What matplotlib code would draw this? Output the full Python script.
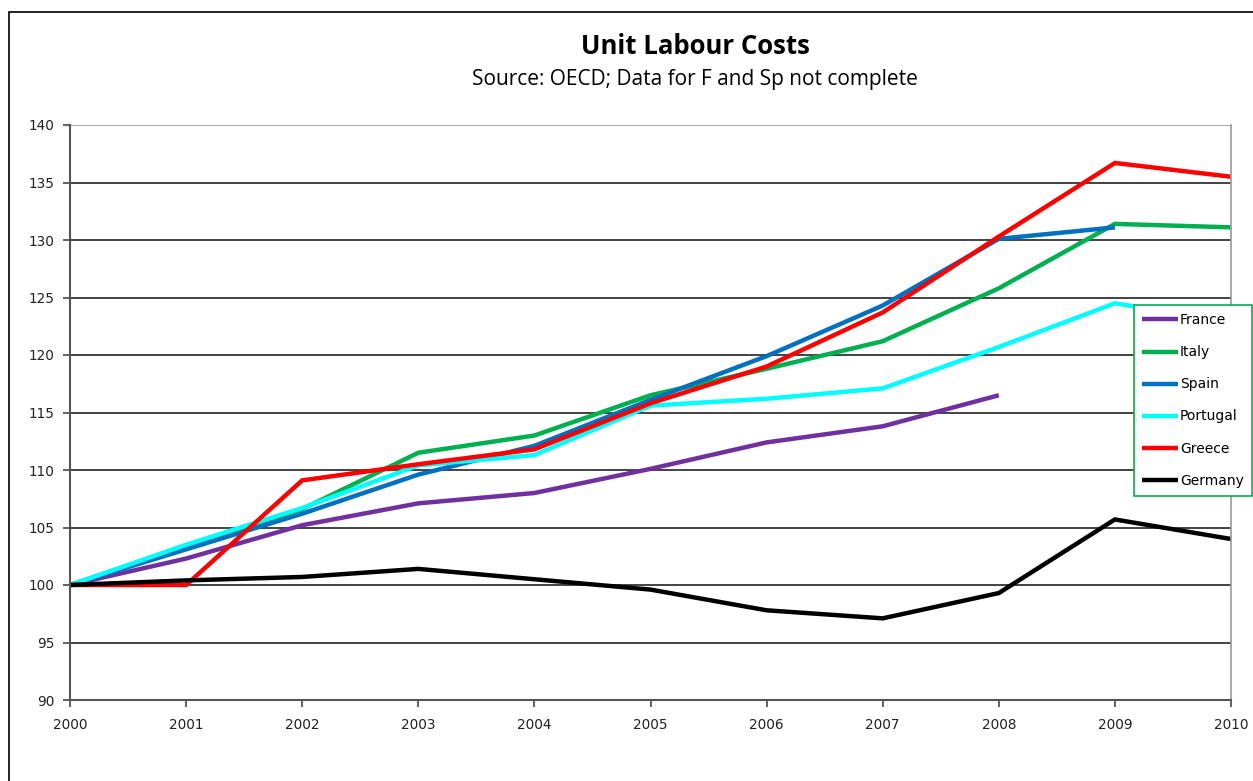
import matplotlib.pyplot as plt
from matplotlib.patches import Rectangle

years = [2000, 2001, 2002, 2003, 2004, 2005, 2006, 2007, 2008, 2009, 2010]

france = [100, 102.3, 105.2, 107.1, 108.0, 110.1, 112.4, 113.8, 116.5]
italy = [100, 103.3, 106.6, 111.5, 113.0, 116.5, 118.8, 121.2, 125.8, 131.4, 131.1]
spain = [100, 103.1, 106.2, 109.6, 112.1, 116.1, 119.9, 124.3, 130.1, 131.1]
portugal = [100, 103.5, 106.7, 110.4, 111.3, 115.6, 116.2, 117.1, 120.7, 124.5, 122.8]
greece = [100, 100, 109.1, 110.5, 111.8, 115.8, 119.0, 123.7, 130.3, 136.7, 135.5]
germany = [100, 100.4, 100.7, 101.4, 100.5, 99.6, 97.8, 97.1, 99.3, 105.7, 104.0]

series = [
    ("France", france, "#7030A0"),
    ("Italy", italy, "#00B050"),
    ("Spain", spain, "#0070C0"),
    ("Portugal", portugal, "#00FFFF"),
    ("Greece", greece, "#FF0000"),
    ("Germany", germany, "#000000"),
]

fig = plt.figure(figsize=(12.53, 7.81), dpi=100)
ax = fig.add_axes([70 / 1253, 1 - 700 / 781, 1161 / 1253, 575 / 781])

# chart border
fig.patches.append(Rectangle((9 / 1253, -0.1), 1.2, 1 - 12 / 781 + 0.1,
                             transform=fig.transFigure, fill=False,
                             edgecolor="black", linewidth=1.2))

for name, vals, col in series:
    ax.plot(years[:len(vals)], vals, color=col, linewidth=3.2, label=name,
            solid_capstyle="butt", solid_joinstyle="miter")

ax.set_xlim(2000, 2010)
ax.set_ylim(90, 140)
ax.set_xticks(years)
ax.set_yticks(range(90, 141, 5))
for v in range(95, 141, 5):
    ax.axhline(v, color="#222222" if v < 140 else "#999999", linewidth=1.2, zorder=0)

ax.spines["top"].set_visible(False)
ax.spines["right"].set_color("#999999")
ax.spines["right"].set_linewidth(1.2)
for s in ["left", "bottom"]:
    ax.spines[s].set_color("#555555")
    ax.spines[s].set_linewidth(1.5)
ax.tick_params(direction="out", length=5, width=1.3, color="#555555",
               labelsize=9.8, labelcolor="#222222", pad=8)
ax.tick_params(axis="y", pad=6)

fig.text(695 / 1253, 1 - 46 / 781, "Unit Labour Costs", ha="center", va="center",
         fontsize=18.5, fontweight="bold", family="Open Sans")
fig.text(695 / 1253, 1 - 79 / 781, "Source: OECD; Data for F and Sp not complete",
         ha="center", va="center", fontsize=15, family="Open Sans")

leg = fig.legend(loc="upper left", bbox_to_anchor=(1134 / 1253, 1 - 305 / 781),
                 fontsize=10, handlelength=2.6, handletextpad=0.1,
                 labelspacing=1.3, borderpad=0.6, borderaxespad=0,
                 fancybox=False, framealpha=1)
leg.get_frame().set_edgecolor("#00B050")
leg.get_frame().set_linewidth(1.2)

fig.savefig("out.png", dpi=100)
